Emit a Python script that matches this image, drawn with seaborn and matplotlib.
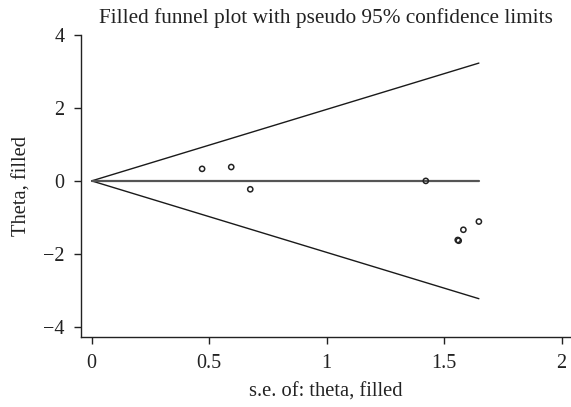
import matplotlib
matplotlib.use("Agg")
import matplotlib.pyplot as plt
import seaborn as sns
import numpy as np
import pandas as pd

se = [0.47, 0.594, 0.675, 1.422, 1.558, 1.562, 1.582, 1.648]
theta = [0.33, 0.38, -0.23, 0.0, -1.62, -1.64, -1.34, -1.115]
pooled = 0.0
xticks = [0, 0.5, 1, 1.5, 2]
xticklabels = ["0", "0.5", "1", "1.5", "2"]
yticks = [-4, -2, 0, 2, 4]
yticklabels = ["\u22124", "\u22122", "0", "2", "4"]

sns.set_theme(style="ticks")
plt.rcParams['font.family'] = ['Liberation Serif', 'DejaVu Serif']

fig = plt.figure(figsize=(5.71, 4.07), dpi=100)
ax = fig.add_axes([0.142, 0.172, 0.858, 0.742])

smax = max(se)
fun = pd.DataFrame({"se": [0, smax], "lo": [pooled, pooled - 1.96 * smax],
                    "hi": [pooled, pooled + 1.96 * smax], "mid": [pooled, pooled]})
sns.lineplot(data=fun, x="se", y="hi", ax=ax, color="#1a1a1a", lw=1.0)
sns.lineplot(data=fun, x="se", y="lo", ax=ax, color="#1a1a1a", lw=1.0)
sns.lineplot(data=fun, x="se", y="mid", ax=ax, color="#555555", lw=1.6)

df = pd.DataFrame({"se": se, "theta": theta})
sns.scatterplot(data=df, x="se", y="theta", ax=ax, s=14, facecolor="none",
                edgecolor="#222222", linewidth=1.1, zorder=5)

ax.set_xlim(-0.045, 2.04)
ax.set_ylim(-4.28, 4.0)
ax.set_xticks(xticks)
ax.set_xticklabels(xticklabels)
ax.set_yticks(yticks)
ax.set_yticklabels(yticklabels)
ax.tick_params(labelsize=14.5, length=5, width=1, color="#222222", labelcolor="#222222", pad=7)
ax.tick_params(axis="y", rotation=0)
for s in ["top", "right"]:
    ax.spines[s].set_visible(False)
for s in ["left", "bottom"]:
    ax.spines[s].set_color("#222222")
    ax.spines[s].set_linewidth(1.0)
ax.set_xlabel("s.e. of: theta, filled", fontsize=14.8, color="#222222", labelpad=7)
ax.set_ylabel("Theta, filled", fontsize=14.8, color="#222222", labelpad=8)
ax.set_title("Filled funnel plot with pseudo 95% confidence limits", fontsize=15.3, color="#222222", pad=9)

fig.savefig("out.png", dpi=100)
